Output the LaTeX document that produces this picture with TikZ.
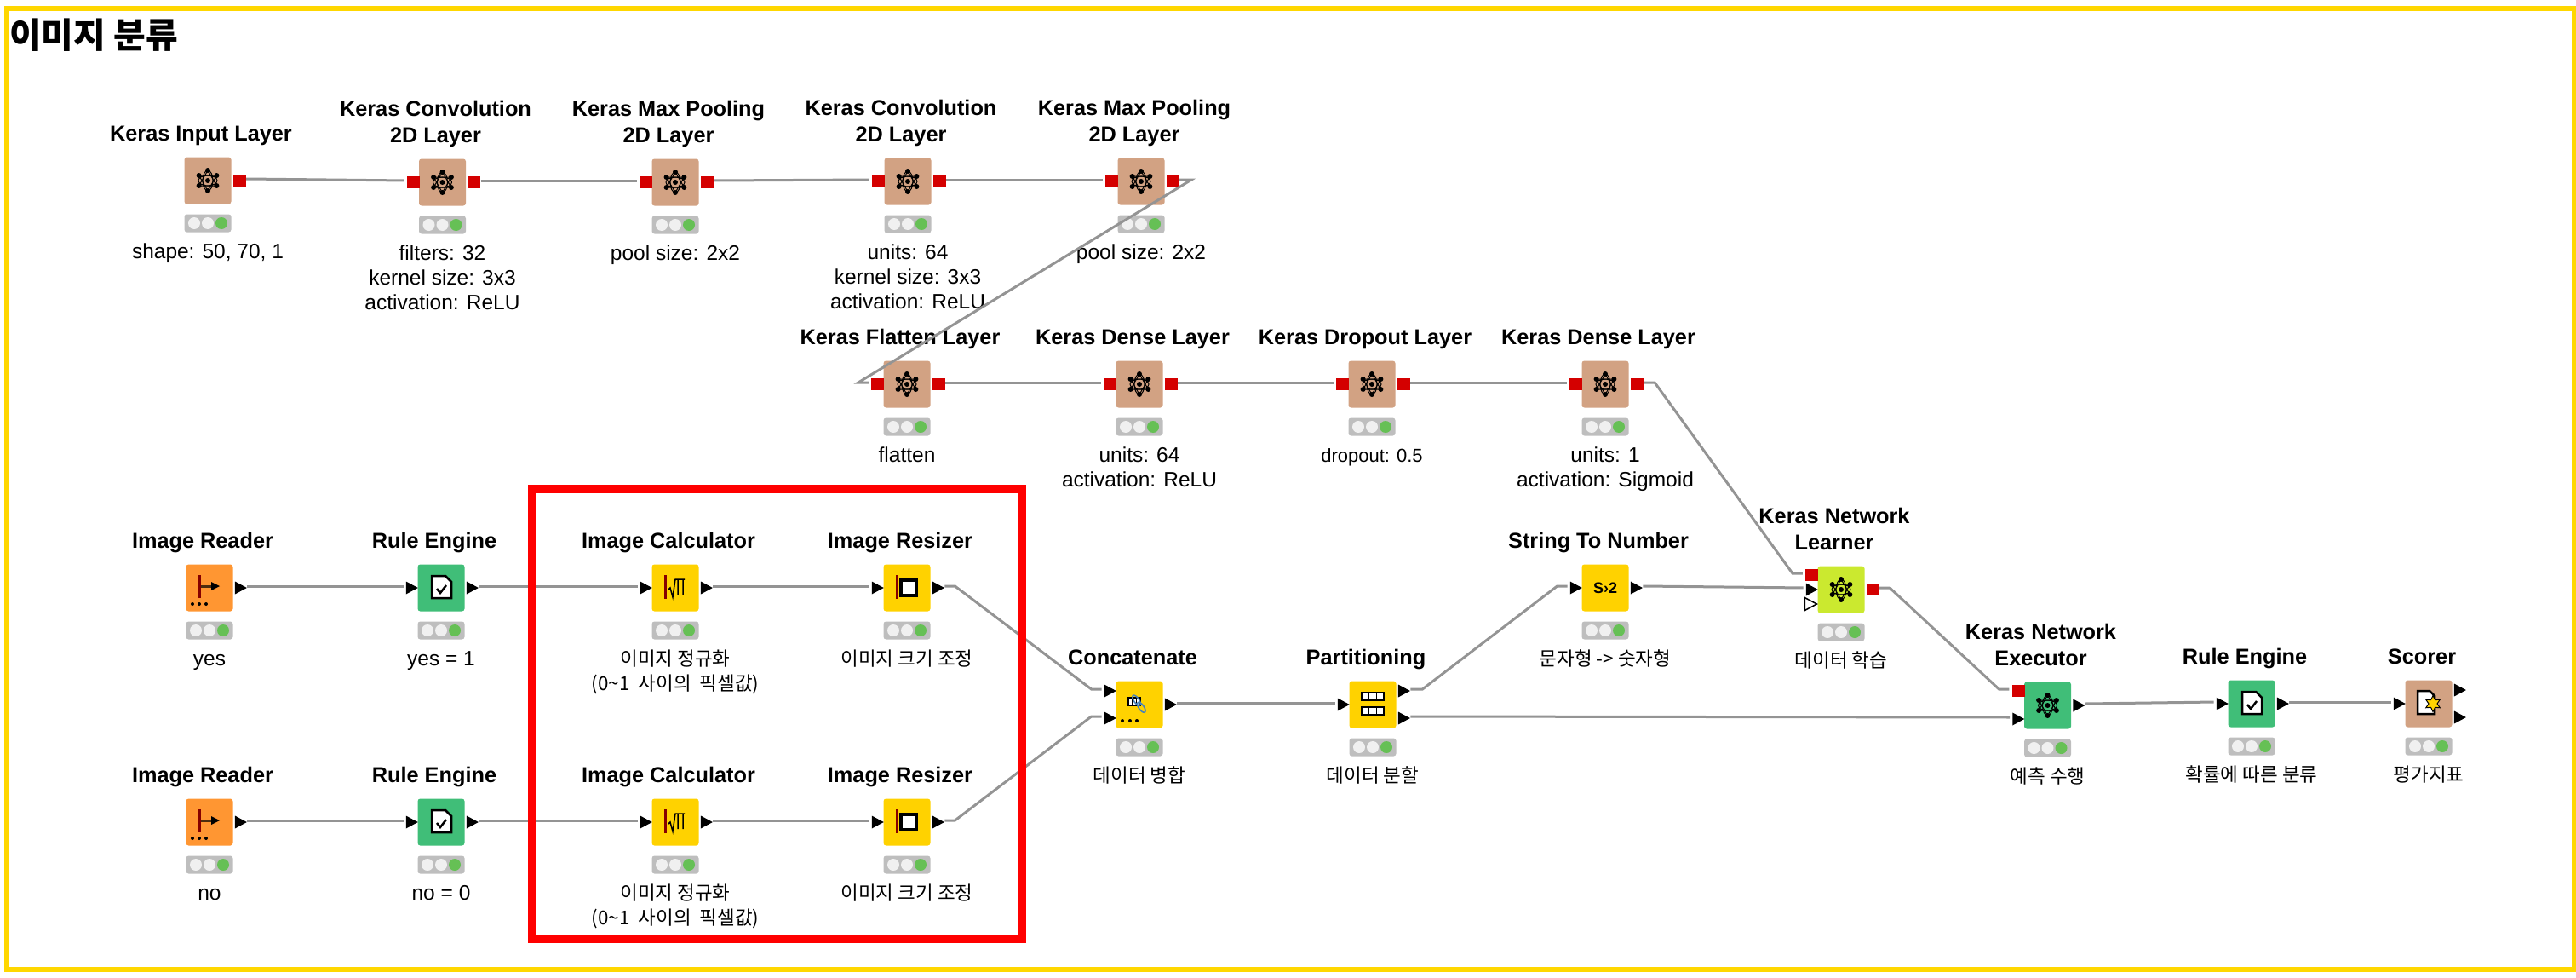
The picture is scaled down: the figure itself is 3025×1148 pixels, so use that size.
\documentclass[tikz,border=0pt]{standalone}
\usepackage{fontspec}
\setmainfont{Liberation Sans}
\newfontfamily\krfont{Noto Sans CJK KR}
\usetikzlibrary{calc,%
                shapes.geometric}
\definecolor{kbrown}{HTML}{D2A283}
\definecolor{kgreen}{HTML}{40BE78}
\definecolor{kyellow}{HTML}{FFD200}
\definecolor{korange}{HTML}{FF9632}
\definecolor{klime}{HTML}{CBE92F}
\definecolor{kred}{HTML}{D40000}
\definecolor{kbar}{HTML}{BEBEBE}
\definecolor{klight}{HTML}{F0F0F0}
\definecolor{kgo}{HTML}{66C055}
\definecolor{kline}{HTML}{949494}
\definecolor{kframe}{HTML}{FFD700}

% name, x, y, colour, title, text below
\newcommand{\knode}[6]{%
\node[kbox,fill=#4] (#1) at (#2,#3) {};
\node[ktitle] (#1t) at (#2-8,#3-36.7) {#5\strut};
\node[kstatus] (#1s) at (#2,#3+50) {};
\fill[klight] (#2-16,#3+50) circle (7pt) (#2,#3+50) circle (7pt);
\fill[kgo] (#2+16,#3+50) circle (7pt);
\node[ksub] (#1l) at (#2,#3+70.7) {\strut #6};
}
% style, box, port name, dy
\newcommand{\porti}[4]{\node[#1,anchor=east] (#3) at ($(#2.west)+(1,#4)$) {};}
\newcommand{\porto}[4]{\node[#1,anchor=west] (#3) at ($(#2.east)+(2,#4)$) {};}
\newcommand{\krsub}{\krfont\fontsize{22.5}{31}\selectfont}

% icons, drawn round the centre of a box
\newcommand{\neticon}[1]{%
\begin{scope}[shift={(#1)}]
\draw[line width=1pt] (90:12) -- (210:12) -- (330:12) -- cycle (270:12) -- (30:12) -- (150:12) -- cycle;
\draw[line width=1pt] (0,0) ellipse (6pt and 12pt) (0,0) ellipse (11pt and 6pt);
\foreach \a in {30,90,...,330} \fill (\a:12) circle (3pt);
\fill (0,0) circle (3pt);
\end{scope}}
\newcommand{\readicon}[1]{%
\begin{scope}[shift={(#1)}]
\fill[black!10!kred!70!black] (-13.5,-15) rectangle (-10.5,12);
\fill[black!70!korange] (-10.5,-3) rectangle (3,0);
\fill (2,-7) -- (12,-2) -- (2,3) -- cycle;
\foreach \a in {-20,-12,-4} \fill (\a,19) circle (2pt);
\end{scope}}
\newcommand{\ruleicon}[1]{%
\begin{scope}[shift={(#1)}]
\draw[fill=white,line width=2.5pt] (-11,-14) -- (5,-14) -- (12,-7) -- (12,12) -- (-11,12) -- cycle;
\draw[line width=2.5pt] (-5,1) -- (-1,6) -- (6,-3);
\end{scope}}
\newcommand{\calcicon}[1]{%
\begin{scope}[shift={(#1)}]
\fill[black!10!kred!70!black] (-13,-15) rectangle (-10.5,13);
\draw[line width=1.5pt] (-8,2) -- (-6,0) -- (-3,11) -- (0,-10) -- (11,-10) (3,-10) -- (3,8) (9,-10) -- (9,8);
\end{scope}}
\newcommand{\sizeicon}[1]{%
\begin{scope}[shift={(#1)}]
\fill[black!10!kred!70!black] (-13,-15) rectangle (-10.5,13);
\draw[fill=white,line width=4pt] (-7,-9) rectangle (11,9);
\end{scope}}
\newcommand{\tableicon}[3]{%
\draw[fill=white,line width=1.6pt] (#1,#2) rectangle ++(#3,9);
\draw[line width=1.6pt] (#1+#3/3,#2) -- ++(0,9) (#1+2*#3/3,#2) -- ++(0,9);
}
\newcommand{\concicon}[1]{%
\begin{scope}[shift={(#1)}]
\tableicon{-13}{-8}{14}
\draw[cyan!60!blue!70!gray,line width=1.6pt,rotate=-55] (-6,0) ellipse (7pt and 3pt) (4,0) ellipse (7pt and 3pt);
\foreach \a in {-20,-11,-3} \fill (\a,19) circle (2pt);
\end{scope}}
\newcommand{\particon}[1]{%
\begin{scope}[shift={(#1)}]
\tableicon{-13}{-14}{26}
\tableicon{-13}{3}{26}
\end{scope}}
\newcommand{\scoreicon}[1]{%
\begin{scope}[shift={(#1)}]
\draw[fill=white,line width=2.5pt] (-13,-15) -- (1,-15) -- (7,-9) -- (7,12) -- (-13,12) -- cycle;
\node[star,star points=6,star point ratio=1.9,minimum size=19pt,inner sep=0pt,fill=kyellow,draw=black,line width=1pt] (#1star) at (5,0) {};
\end{scope}}

\begin{document}
\begin{tikzpicture}[x=1pt,y=-1pt]
\tikzstyle{kbox}=[shape=rectangle,rounded corners=3pt,minimum size=55pt,inner sep=0pt]
\tikzstyle{kstatus}=[shape=rectangle,rounded corners=3pt,fill=kbar,minimum width=55pt,minimum height=21pt,inner sep=0pt]
\tikzstyle{ktitle}=[anchor=south,align=center,inner sep=0pt,font=\bfseries\fontsize{25.3}{31}\selectfont]
\tikzstyle{ksub}=[anchor=north,align=center,inner sep=0pt,font=\fontsize{24.5}{29}\selectfont]
\tikzstyle{redport}=[shape=rectangle,fill=kred,minimum width=15pt,minimum height=14pt,inner sep=0pt]
\tikzstyle{tport}=[shape=isosceles triangle,isosceles triangle stretches,fill=black,minimum width=15pt,minimum height=14pt,inner sep=0pt]
\tikzstyle{wport}=[tport,fill=white,draw=black,line width=1.5pt]
\tikzstyle{kedge}=[draw=kline,line width=3pt,shorten >=3pt,transform canvas={yshift=2pt}]

\useasboundingbox (0,0) rectangle (3025,1148);
\draw[kframe,line width=6pt] (8,10.5) rectangle (3023,1137.5);
\node[anchor=west,inner sep=0pt,font=\krfont\bfseries\fontsize{41}{44}\selectfont] (head) at (11,41) {이미지 분류};

% first row of layers
\knode{inp}{244}{212}{kbrown}{Keras Input Layer}{shape: 50, 70, 1}
\knode{convone}{519.5}{214}{kbrown}{Keras Convolution\\2D Layer}{filters: 32\\kernel size: 3x3\\activation: ReLU}
\knode{poolone}{793}{214}{kbrown}{Keras Max Pooling\\2D Layer}{pool size: 2x2}
\knode{convtwo}{1066}{213}{kbrown}{Keras Convolution\\2D Layer}{units: 64\\kernel size: 3x3\\activation: ReLU}
\knode{pooltwo}{1340}{213}{kbrown}{Keras Max Pooling\\2D Layer}{pool size: 2x2}

% second row of layers
\knode{flat}{1065}{451}{kbrown}{Keras Flatten Layer}{flatten}
\knode{denseone}{1338}{451}{kbrown}{Keras Dense Layer}{units: 64\\activation: ReLU}
\knode{drop}{1611}{451}{kbrown}{Keras Dropout Layer}{\fontsize{22}{29}\selectfont dropout: 0.5}
\knode{densetwo}{1885}{451}{kbrown}{Keras Dense Layer}{units: 1\\activation: Sigmoid}

% image branches
\knode{readone}{246}{690}{korange}{Image Reader}{yes}
\knode{ruleone}{518}{690}{kgreen}{Rule Engine}{yes = 1}
\knode{calcone}{793}{690}{kyellow}{Image Calculator}{\krsub 이미지 정규화\\\krsub (0{\char"7E}1 \ 사이의 \ 픽셀값)}
\knode{sizeone}{1065}{690}{kyellow}{Image Resizer}{\krsub 이미지 크기 조정}
\knode{readtwo}{246}{965}{korange}{Image Reader}{no}
\knode{ruletwo}{518}{965}{kgreen}{Rule Engine}{no = 0}
\knode{calctwo}{793}{965}{kyellow}{Image Calculator}{\krsub 이미지 정규화\\\krsub (0{\char"7E}1 \ 사이의 \ 픽셀값)}
\knode{sizetwo}{1065}{965}{kyellow}{Image Resizer}{\krsub 이미지 크기 조정}

% training and scoring
\knode{conc}{1338}{827}{kyellow}{Concatenate}{\krsub 데이터 병합}
\knode{part}{1612}{827}{kyellow}{Partitioning}{\krsub 데이터 분할}
\knode{stn}{1885}{690}{kyellow}{String To Number}{\krsub 문자형 -> 숫자형}
\knode{learn}{2162}{692}{klime}{Keras Network\\Learner}{\krsub 데이터 학습}
\knode{exec}{2404.5}{828}{kgreen}{Keras Network\\Executor}{\krsub 예측 수행}
\knode{rulethree}{2644}{826}{kgreen}{Rule Engine}{\krsub 확률에 따른 분류}
\knode{score}{2852}{826}{kbrown}{Scorer}{\krsub 평가지표}

\node[font=\bfseries\fontsize{18}{18}\selectfont,inner sep=0pt] (stnicon) at (1885,690) {S›2};

\foreach \n in {inp,convone,poolone,convtwo,pooltwo,flat,denseone,drop,densetwo,learn,exec} \neticon{\n};
\foreach \n in {readone,readtwo} \readicon{\n};
\foreach \n in {ruleone,ruletwo,rulethree} \ruleicon{\n};
\foreach \n in {calcone,calctwo} \calcicon{\n};
\foreach \n in {sizeone,sizetwo} \sizeicon{\n};
\concicon{conc}
\particon{part}
\scoreicon{score}

% ports
\foreach \n in {inp,convone,poolone,convtwo,pooltwo,flat,denseone,drop,densetwo} \porto{redport}{\n}{\n o}{0};
\foreach \n in {convone,poolone,convtwo,pooltwo,flat,denseone,drop,densetwo} \porti{redport}{\n}{\n i}{0};
\foreach \n in {readone,ruleone,calcone,sizeone,readtwo,ruletwo,calctwo,sizetwo,conc,stn,exec,rulethree} \porto{tport}{\n}{\n o}{0};
\foreach \n in {ruleone,calcone,sizeone,ruletwo,calctwo,sizetwo,part,stn,rulethree,score} \porti{tport}{\n}{\n i}{0};
\porti{tport}{conc}{conci}{-16}
\porti{tport}{conc}{concj}{16}
\porto{tport}{part}{parto}{-16}
\porto{tport}{part}{partp}{16}
\porti{redport}{learn}{learni}{-17}
\porti{tport}{learn}{learnj}{0}
\porti{wport}{learn}{learnk}{17}
\porto{redport}{learn}{learno}{0}
\porti{redport}{exec}{execi}{-17}
\porti{tport}{exec}{execj}{16}
\porto{tport}{score}{scoreo}{-16}
\porto{tport}{score}{scorep}{16}

% connections
\path[kedge] (inpo.east) -- (convonei.west);
\path[kedge] (convoneo.east) -- (poolonei.west);
\path[kedge] (pooloneo.east) -- (convtwoi.west);
\path[kedge] (convtwoo.east) -- (pooltwoi.west);
\path[kedge] (pooltwoo.east) -- ++(14,0) -- ($(flati.west)+(-15,0)$) -- (flati.west);
\path[kedge] (flato.east) -- (denseonei.west);
\path[kedge] (denseoneo.east) -- (dropi.west);
\path[kedge] (dropo.east) -- (densetwoi.west);
\path[kedge] (densetwoo.east) -- ++(13,0) -- ($(learni.west)+(-15,0)$) -- (learni.west);

\path[kedge] (readoneo.east) -- (ruleonei.west);
\path[kedge] (ruleoneo.east) -- (calconei.west);
\path[kedge] (calconeo.east) -- (sizeonei.west);
\path[kedge] (sizeoneo.east) -- ++(12,0) -- ($(conci.west)+(-15,0)$) -- (conci.west);
\path[kedge] (readtwoo.east) -- (ruletwoi.west);
\path[kedge] (ruletwoo.east) -- (calctwoi.west);
\path[kedge] (calctwoo.east) -- (sizetwoi.west);
\path[kedge] (sizetwoo.east) -- ++(12,0) -- ($(concj.west)+(-15,0)$) -- (concj.west);

\path[kedge] (conco.east) -- (parti.west);
\path[kedge] (parto.east) -- ++(14,0) -- ($(stni.west)+(-15,0)$) -- (stni.west);
\path[kedge] (partp.east) -- (execj.west);
\path[kedge] (stno.east) -- (learnj.west);
\path[kedge] (learno.east) -- ++(12,0) -- ($(execi.west)+(-15,0)$) -- (execi.west);
\path[kedge] (execo.east) -- (rulethreei.west);
\path[kedge] (rulethreeo.east) -- (scorei.west);

% the marked part
\draw[red,line width=10pt] (625,574) rectangle (1200,1102);
\end{tikzpicture}
\end{document}
